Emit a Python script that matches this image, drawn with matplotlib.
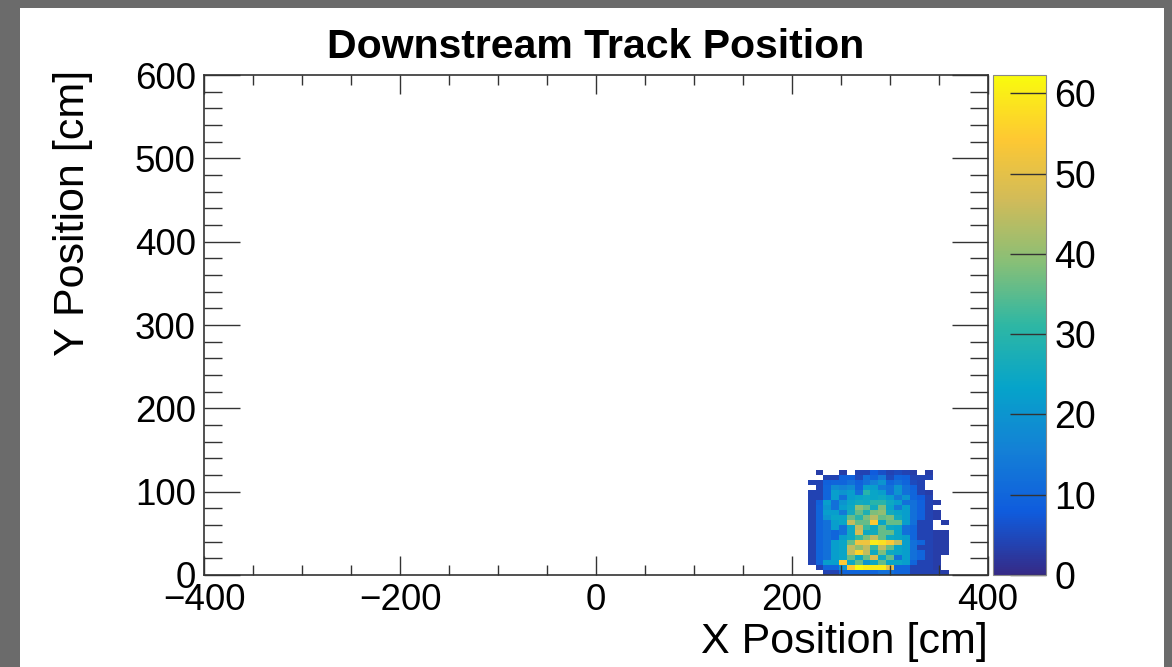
import numpy as np
import matplotlib
matplotlib.use("Agg")
import matplotlib.pyplot as plt
from matplotlib.colors import LinearSegmentedColormap
from matplotlib.patches import Rectangle

plt.rcParams['font.family'] = ['Liberation Sans', 'DejaVu Sans']

# ROOT kBird palette
bird_stops = [0.0, 0.125, 0.25, 0.375, 0.5, 0.625, 0.75, 0.875, 1.0]
bird_r = [0.2082, 0.0592, 0.0780, 0.0232, 0.1802, 0.5301, 0.8186, 0.9956, 0.9764]
bird_g = [0.1664, 0.3599, 0.5041, 0.6419, 0.7178, 0.7492, 0.7328, 0.7862, 0.9832]
bird_b = [0.5293, 0.8684, 0.8385, 0.7914, 0.6425, 0.4662, 0.3499, 0.1968, 0.0539]

# histogram binning: 8 cm in x, 6 cm in y (only the filled region)
x_edges = np.arange(216, 361, 8)   # 18 bins, 216..360 cm
y_edges = np.arange(0, 127, 6)     # 21 bins, 0..126 cm

# bin contents, top row (y = 120..126) first, 0 = empty
counts_top_down = [
    [0, 3, 0, 0, 3, 0, 4, 4, 8, 6, 4, 5, 4, 3, 0, 3, 0, 0],
    [0, 0, 4, 4, 9, 9, 5, 12, 10, 14, 5, 10, 9, 4, 4, 4, 0, 0],
    [4, 4, 9, 10, 10, 12, 9, 12, 16, 20, 10, 12, 10, 5, 4, 0, 0, 0],
    [0, 4, 10, 18, 16, 18, 10, 22, 22, 14, 12, 20, 12, 9, 4, 0, 0, 0],
    [4, 4, 10, 22, 20, 22, 12, 30, 24, 22, 12, 20, 12, 10, 4, 3, 0, 0],
    [4, 4, 10, 22, 12, 22, 24, 25, 24, 25, 22, 14, 20, 10, 8, 4, 0, 0],
    [4, 9, 22, 12, 20, 24, 26, 25, 30, 30, 25, 22, 12, 12, 9, 4, 3, 0],
    [4, 10, 20, 12, 22, 25, 40, 36, 26, 38, 24, 14, 22, 12, 9, 4, 0, 0],
    [4, 10, 22, 22, 14, 26, 36, 28, 38, 40, 26, 24, 22, 12, 9, 4, 3, 0],
    [4, 10, 20, 24, 24, 36, 30, 38, 44, 36, 38, 26, 22, 12, 9, 4, 3, 0],
    [4, 10, 12, 22, 24, 45, 36, 36, 54, 24, 36, 36, 22, 12, 4, 4, 0, 3],
    [4, 10, 12, 22, 12, 25, 45, 32, 25, 36, 25, 24, 12, 10, 4, 4, 0, 0],
    [4, 10, 12, 10, 12, 25, 48, 25, 26, 36, 36, 24, 12, 10, 4, 4, 3, 3],
    [4, 10, 12, 10, 22, 25, 32, 38, 45, 36, 25, 24, 22, 10, 4, 4, 3, 3],
    [4, 10, 12, 22, 24, 36, 52, 52, 60, 58, 54, 45, 22, 12, 10, 4, 3, 3],
    [4, 10, 12, 22, 24, 45, 40, 45, 32, 45, 36, 24, 22, 12, 4, 4, 3, 3],
    [4, 10, 12, 22, 24, 45, 56, 45, 25, 38, 25, 24, 22, 12, 10, 4, 3, 3],
    [4, 10, 12, 22, 24, 36, 25, 36, 48, 25, 36, 12, 22, 12, 10, 4, 3, 0],
    [4, 10, 22, 22, 54, 25, 36, 20, 25, 36, 24, 24, 22, 10, 4, 4, 3, 0],
    [0, 4, 10, 10, 20, 54, 62, 60, 60, 60, 50, 10, 10, 4, 4, 4, 3, 0],
    [0, 0, 4, 4, 10, 10, 10, 10, 10, 12, 12, 10, 10, 4, 4, 4, 4, 3],
]

z_max = 62.3
x_ticks = [-400, -200, 0, 200, 400]
y_ticks = [0, 100, 200, 300, 400, 500, 600]
z_ticks = [0, 10, 20, 30, 40, 50, 60]

counts = np.array(counts_top_down[::-1], dtype=float)
counts = np.ma.masked_where(counts <= 0, counts)

cmap = LinearSegmentedColormap.from_list(
    "bird", list(zip(bird_stops, zip(bird_r, bird_g, bird_b))), N=255)

fig = plt.figure(figsize=(11.72, 6.67), dpi=100, facecolor='#6b6b6b')
# white canvas inset in the grey frame
fig.patches.append(Rectangle((20 / 1172, 0), 1144 / 1172, 659 / 667,
                             transform=fig.transFigure, facecolor='white',
                             edgecolor='none', zorder=-10))

ax = fig.add_axes([204 / 1172, 92 / 667, 784 / 1172, 500 / 667])
cax = fig.add_axes([993 / 1172, 92 / 667, 53 / 1172, 500 / 667])

mesh = ax.pcolormesh(x_edges, y_edges, counts, cmap=cmap, vmin=0, vmax=z_max)
ax.set_xlim(-400, 400)
ax.set_ylim(0, 600)

ax.set_xticks(x_ticks)
ax.set_xticks(np.arange(-400, 401, 50), minor=True)
ax.set_yticks(y_ticks)
ax.set_yticks(np.arange(0, 601, 20), minor=True)
ax.tick_params(axis='x', which='major', direction='in', length=14, width=1,
               top=True, labelsize=26.5, pad=6, color='#333333')
ax.tick_params(axis='x', which='minor', direction='in', length=7, width=1,
               top=True, color='#333333')
ax.tick_params(axis='y', which='major', direction='in', length=26, width=1,
               right=True, labelsize=26.5, pad=6, color='#333333')
ax.tick_params(axis='y', which='minor', direction='in', length=13, width=1,
               right=True, color='#333333')
for s in ax.spines.values():
    s.set_linewidth(1.2)
    s.set_color('#333333')

ax.set_title("Downstream Track Position", fontsize=29.5, fontweight='bold',
             pad=12)
fig.text(988 / 1172, 0.038, "X Position [cm]", fontsize=31, ha='right',
         va='center')
fig.text(0.062, 1 - 70 / 667, "Y Position [cm]", fontsize=31, rotation=90,
         ha='center', va='top')

cb = fig.colorbar(mesh, cax=cax)
cb.set_ticks(z_ticks)
cb.outline.set_linewidth(0.8)
cb.outline.set_edgecolor('#888888')
cax.tick_params(direction='in', length=26, width=1, labelsize=27, pad=6,
                color='#333333')
cax.minorticks_off()

fig.savefig("out.png", dpi=100, facecolor=fig.get_facecolor())
